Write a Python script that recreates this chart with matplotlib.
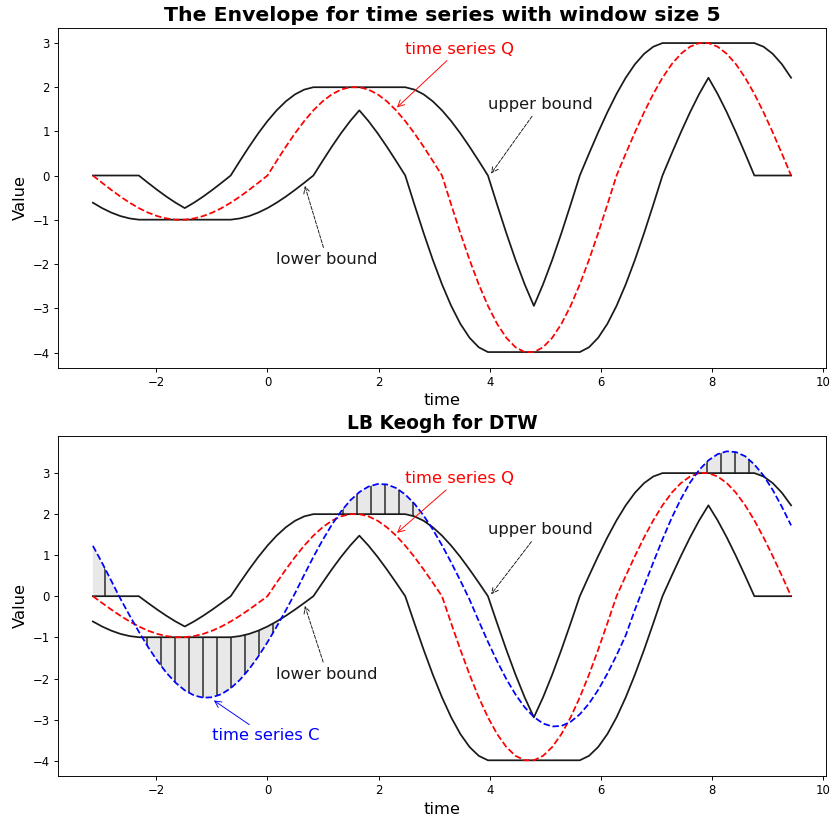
import numpy as np
import matplotlib.pyplot as plt

# sample times from -pi to 3pi
time = np.array([
    -3.1416, -2.9762, -2.8109, -2.6455, -2.4802, -2.3149, -2.1495, -1.9842, -1.8188, -1.6535,
    -1.4881, -1.3228, -1.1574, -0.9921, -0.8267, -0.6614, -0.4960, -0.3307, -0.1653, 0.0000,
    0.1653, 0.3307, 0.4960, 0.6614, 0.8267, 0.9921, 1.1574, 1.3228, 1.4881, 1.6535,
    1.8188, 1.9842, 2.1495, 2.3149, 2.4802, 2.6455, 2.8109, 2.9762, 3.1416, 3.3069,
    3.4723, 3.6376, 3.8030, 3.9683, 4.1337, 4.2990, 4.4644, 4.6297, 4.7951, 4.9604,
    5.1258, 5.2911, 5.4565, 5.6218, 5.7872, 5.9525, 6.1179, 6.2832, 6.4485, 6.6139,
    6.7792, 6.9446, 7.1099, 7.2753, 7.4406, 7.6060, 7.7713, 7.9367, 8.1020, 8.2674,
    8.4327, 8.5981, 8.7634, 8.9288, 9.0941, 9.2595, 9.4248])

# time series Q
series_q = np.array([
    0.000, -0.165, -0.325, -0.476, -0.614, -0.736, -0.837, -0.916, -0.969, -0.997,
    -0.997, -0.969, -0.916, -0.837, -0.736, -0.614, -0.476, -0.325, -0.165, 0.000,
    0.329, 0.649, 0.952, 1.228, 1.471, 1.674, 1.832, 1.939, 1.993, 1.993,
    1.939, 1.832, 1.674, 1.471, 1.228, 0.952, 0.649, 0.329, 0.000, -0.658,
    -1.299, -1.904, -2.457, -2.943, -3.349, -3.663, -3.878, -3.986, -3.986, -3.878,
    -3.663, -3.349, -2.943, -2.457, -1.904, -1.299, -0.658, 0.000, 0.494, 0.974,
    1.428, 1.843, 2.207, 2.512, 2.747, 2.908, 2.990, 2.990, 2.908, 2.747,
    2.512, 2.207, 1.843, 1.428, 0.974, 0.494, 0.000])

# time series C
series_c = np.array([
    1.223, 0.810, 0.375, -0.064, -0.470, -0.863, -1.232, -1.567, -1.860, -2.102,
    -2.287, -2.409, -2.466, -2.455, -2.378, -2.236, -2.032, -1.773, -1.466, -1.119,
    -0.741, -0.343, 0.071, 0.519, 0.953, 1.361, 1.732, 2.056, 2.324, 2.528,
    2.663, 2.726, 2.714, 2.628, 2.471, 2.246, 1.960, 1.621, 1.236, 0.819,
    0.379, -0.082, -0.603, -1.107, -1.581, -2.011, -2.387, -2.698, -2.935, -3.092,
    -3.165, -3.151, -3.052, -2.869, -2.608, -2.276, -1.882, -1.436, -0.951, -0.330,
    0.250, 0.820, 1.380, 1.900, 2.360, 2.760, 3.070, 3.300, 3.450, 3.520,
    3.500, 3.400, 3.200, 2.930, 2.580, 2.170, 1.720])

window = 5

# envelope of Q over the window
upper = np.array([series_q[max(i - window, 0):i + window].max() for i in range(len(series_q))])
lower = np.array([series_q[max(i - window, 0):i + window].min() for i in range(len(series_q))])

plt.rcParams['hatch.linewidth'] = 1.6

fig, (ax1, ax2) = plt.subplots(2, 1, figsize=(832 / 84, 817 / 84), dpi=84)
fig.subplots_adjust(left=0.0697, right=0.9928, top=0.9662, bottom=0.0505, hspace=0.201)

# envelope plot
ax1.plot(time, upper, color='#1a1a1a', linewidth=1.5)
ax1.plot(time, lower, color='#1a1a1a', linewidth=1.5)
ax1.plot(time, series_q, 'r--', linewidth=1.5)
ax1.set_title('The Envelope for time series with window size 5', fontsize=17.5, fontweight='bold')

# LB Keogh plot
ax2.fill_between(time, series_c, upper, where=series_c > upper, interpolate=True,
                 facecolor='#e8e8e8', edgecolor='#4d4d4d', hatch='|', linewidth=0)
ax2.fill_between(time, series_c, lower, where=series_c < lower, interpolate=True,
                 facecolor='#e8e8e8', edgecolor='#4d4d4d', hatch='|', linewidth=0)
ax2.plot(time, upper, color='#1a1a1a', linewidth=1.5)
ax2.plot(time, lower, color='#1a1a1a', linewidth=1.5)
ax2.plot(time, series_q, 'r--', linewidth=1.5)
ax2.plot(time, series_c, 'b--', linewidth=1.5)
ax2.set_title('LB Keogh for DTW', fontsize=16, fontweight='bold')
ax2.annotate('time series C', xy=(-1.0, -2.5), xytext=(-1.0, -3.5), color='blue', fontsize=14,
             arrowprops=dict(arrowstyle='->', color='blue', linewidth=0.8))

for ax in (ax1, ax2):
    ax.annotate('time series Q', xy=(2.3, 1.5), xytext=(2.47, 2.75), color='red', fontsize=14,
                arrowprops=dict(arrowstyle='->', color='red', linewidth=0.8))
    ax.annotate('upper bound', xy=(4.0, 0.0), xytext=(3.97, 1.5), color='#1a1a1a', fontsize=14,
                arrowprops=dict(arrowstyle='->', color='#1a1a1a', linewidth=0.8, linestyle='--'))
    ax.annotate('lower bound', xy=(0.66, -0.18), xytext=(0.16, -2.0), color='#1a1a1a', fontsize=14,
                arrowprops=dict(arrowstyle='->', color='#1a1a1a', linewidth=0.8, linestyle='--'))
    ax.set_xlabel('time', fontsize=14)
    ax.set_ylabel('Value', fontsize=14)
    ax.tick_params(labelsize=10)

fig.savefig('out.png', dpi=84)
